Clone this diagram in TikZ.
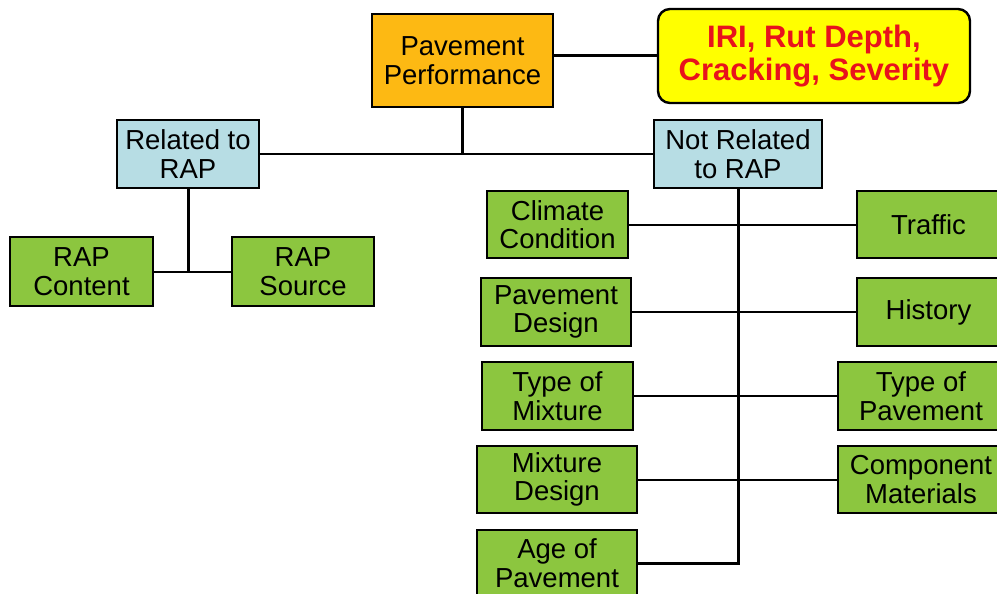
\documentclass[tikz,border=0pt]{standalone}
\usepackage{fontspec}
\setmainfont{Liberation Sans}
\definecolor{orng}{RGB}{253,185,19}
\definecolor{lblue}{RGB}{183,221,228}
\definecolor{grn}{RGB}{140,198,63}
\definecolor{ylw}{RGB}{255,255,0}
\definecolor{rd}{RGB}{232,18,28}
\newcommand\bx[7]{\node[#6, minimum width={(#4-#2)*1pt}, minimum height={(#5-#3)*1pt}] (#1) at ({(#2+#4)/2},{(#3+#5)/2}) {#7};}
\begin{document}
\begin{tikzpicture}[x=1pt,y=-1pt,
  box/.style={draw=black, line width=2.4pt, align=center, inner sep=0pt, text=black,
    font=\fontsize{27.5}{28.5}\selectfont},
  orbox/.style={box, fill=orng},
  bluebox/.style={box, fill=lblue},
  grbox/.style={box, fill=grn},
  ylbox/.style={box, fill=ylw, rounded corners=12pt, text=rd,
    font=\fontsize{31}{33}\selectfont\bfseries},
  conn/.style={draw=black, line width=3pt},
  thin conn/.style={draw=black, line width=2pt}]
\path[use as bounding box] (0,0) rectangle (997,594);
\clip (0,0) rectangle (997,594);
\bx{pp}{372}{14}{553}{107}{orbox}{Pavement\\Performance}
\bx{iri}{658}{9}{970}{103}{ylbox}{IRI, Rut Depth,\\Cracking, Severity}
\bx{rel}{117}{120}{259}{188}{bluebox}{Related to\\RAP}
\bx{notrel}{654}{120}{822}{188}{bluebox}{Not Related\\to RAP}
\bx{rapc}{10}{237}{153}{306}{grbox}{RAP\\Content}
\bx{raps}{232}{237}{374}{306}{grbox}{RAP\\Source}
\bx{clim}{487}{191}{628}{258}{grbox}{Climate\\Condition}
\bx{traf}{857}{191}{1000}{258}{grbox}{Traffic}
\bx{pdes}{481}{278}{631}{346}{grbox}{Pavement\\Design}
\bx{hist}{857}{278}{1000}{346}{grbox}{History}
\bx{tmix}{482}{362}{633}{430}{grbox}{Type of\\Mixture}
\bx{tpav}{838}{362}{1004}{430}{grbox}{Type of\\Pavement}
\bx{mdes}{477}{446}{637}{513}{grbox}{Mixture\\Design}
\bx{comp}{838}{446}{1004}{513}{grbox}{Component\\Materials}
\bx{age}{477}{530}{637}{596}{grbox}{Age of\\Pavement}
\draw[conn] (pp.east |- iri.west) -- (iri.west);
\draw[conn] (pp.south) -- (pp.south |- rel.east);
\draw[thin conn, line width=2.5pt] (rel.east) -- (notrel.west);
\draw[conn] (rel.south) -- (rel.south |- rapc.east);
\draw[thin conn] (rapc.east) -- (raps.west);
\draw[conn] (notrel.south) -- (notrel.south |- age.east) -- (age.east);
\draw[thin conn] (clim.east) -- (traf.west);
\draw[thin conn] (pdes.east) -- (hist.west);
\draw[thin conn] (tmix.east) -- (tpav.west);
\draw[thin conn] (mdes.east) -- (comp.west);
\end{tikzpicture}
\end{document}
